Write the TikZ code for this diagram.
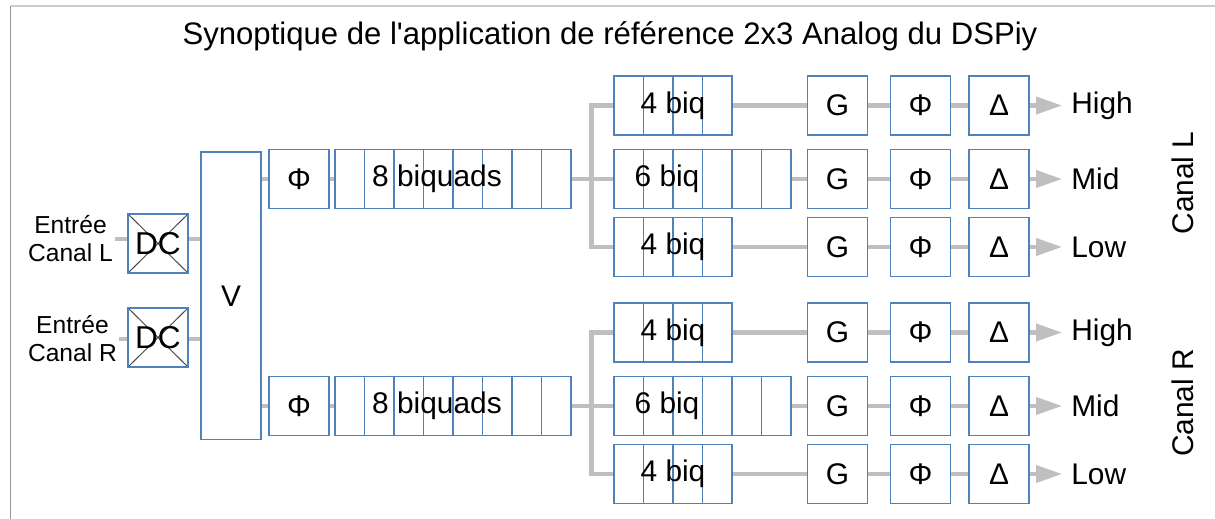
\documentclass[tikz,border=0pt]{standalone}
\usepackage{fontspec}
\setmainfont{Liberation Sans}
\usetikzlibrary{calc,positioning,arrows.meta}
\definecolor{boxblue}{RGB}{79,129,189}
\definecolor{wiregrey}{RGB}{191,191,191}
\definecolor{crossgrey}{RGB}{70,70,70}
\definecolor{framedark}{RGB}{150,150,150}
\definecolor{framelight}{RGB}{205,205,205}

\tikzset{
  blk/.style={draw=boxblue, fill=white, line width=0.6pt, inner sep=0pt,
    minimum width=1.2cm, minimum height=1.18cm, font=\fontsize{17}{20}\selectfont},
  dcbox/.style={blk, font=\fontsize{18}{20}\selectfont, path picture={
    \draw[crossgrey, line width=0.55pt]
      (path picture bounding box.north west) -- (path picture bounding box.south east)
      (path picture bounding box.south west) -- (path picture bounding box.north east);}},
  biq/.style={blk, minimum width=#1*0.59cm, path picture={
    \foreach \i in {1,...,#1}
      \draw[boxblue, line width=0.6pt] ($(path picture bounding box.north west)+(\i*0.59cm,0pt)$) -- ++(0pt,-1.3cm);}},
  wire/.style={wiregrey, line width=2.3pt},
  outwire/.style={wire, -{Triangle[length=0.52cm, width=0.34cm]}, shorten >=0.18cm},
  lbl/.style={font=\fontsize{17}{20}\selectfont, inner sep=0pt},
  inlbl/.style={font=\fontsize{14}{16}\selectfont, align=center, inner sep=1pt},
}

\begin{document}
\begin{tikzpicture}[x=0.02cm, y=-0.02cm]
  \useasboundingbox (0,0) rectangle (1215,519);

  % Frame
  \draw[framedark, line width=1pt] (10.5,519) -- (10.5,6);
  \draw[framelight, line width=1pt] (10.5,6) -- (1215,6);

  % Title
  \node[lbl, font=\fontsize{17.7}{20}\selectfont, anchor=base] (title) at (610,45)
    {Synoptique de l\textquotesingle application de référence 2x3 Analog du DSPiy};

  % Inputs
  \node[inlbl, anchor=east] (inL) at (115,239) {Entrée\\Canal L};
  \node[inlbl, anchor=east] (inR) at (119,339) {Entrée\\Canal R};
  \node[dcbox] (dcL) at (158,243.5) {DC};
  \node[dcbox] (dcR) at (158,337.5) {DC};
  \node[blk, minimum height=5.76cm] (V) at (231,296) {V};

  \draw[wire] (inL.east) -- (inL.east -| dcL.west);
  \draw[wire] (inL.east -| dcL.east) -- (inL.east -| V.west);
  \draw[wire] (inR.east) -- (inR.east -| dcR.west);
  \draw[wire] (inR.east -| dcR.east) -- (inR.east -| V.west);

  % One filter bank per channel
  \foreach \ch/\dy in {L/0, R/227} {
    \node[blk] (phi\ch) at (299,{179+\dy}) {Φ};
    \node[biq=8, label={[lbl, xshift=-0.32cm]center:8 biquads}] (b8\ch) at (453,{179+\dy}) {};

    % crossover
    \node[biq=4, label={[lbl]center:4 biq}] (bH\ch) at (673,{105.5+\dy}) {};
    \node[biq=6, label={[lbl, xshift=-0.71cm]center:6 biq}] (bM\ch) at (702.5,{179+\dy}) {};
    \node[biq=4, label={[lbl]center:4 biq}] (bB\ch) at (673,{247+\dy}) {};

    \draw[wire] (phi\ch.west -| V.east) -- (phi\ch.west);
    \draw[wire] (phi\ch) -- (b8\ch);
    \draw[wire] (b8\ch) -- (bM\ch);
    \draw[wire] (bH\ch.west) -- ++(-22,0) |- (bB\ch.west);

    % gain, phase, delay
    \foreach \r/\y/\out in {H/105.5/High, M/179/Mid, B/247/Low} {
      \node[blk] (g\r\ch) at (837.5,{\y+\dy}) {G};
      \node[blk] (p\r\ch) at (920.5,{\y+\dy}) {Φ};
      \node[blk] (d\r\ch) at (999,{\y+\dy}) {Δ};
      \node[lbl, anchor=west] (o\r\ch) at (1071,{\y+\dy}) {\out};
      \draw[wire] (b\r\ch) -- (g\r\ch);
      \draw[wire] (g\r\ch) -- (p\r\ch);
      \draw[wire] (p\r\ch) -- (d\r\ch);
      \draw[outwire] (d\r\ch) -- (o\r\ch);
    }
  }

  % Channel names
  \node[lbl, rotate=90] (chL) at (1183,183) {Canal L};
  \node[lbl, rotate=90] (chR) at (1183,403) {Canal R};
\end{tikzpicture}
\end{document}
